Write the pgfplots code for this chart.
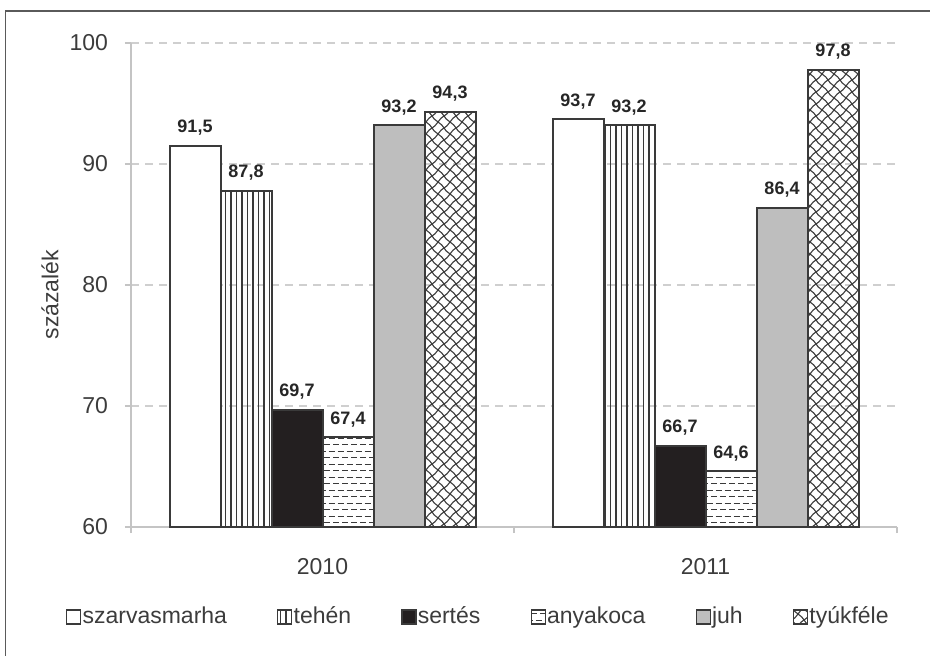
\documentclass[border=0pt]{standalone}
\usepackage{fontspec}
\setmainfont{Liberation Sans}
\usepackage{pgfplots}
\pgfplotsset{compat=1.18}
\usetikzlibrary{patterns}

\definecolor{barline}{HTML}{3A3A3A}
\definecolor{textgray}{HTML}{3C3C3C}
\definecolor{axgray}{HTML}{C4C4C4}
\definecolor{gridgray}{HTML}{CFCFCF}
\definecolor{juhfill}{HTML}{BEBEBE}
\definecolor{sertesfill}{HTML}{231F20}
\definecolor{framegray}{HTML}{5A5A5A}

\pgfdeclarepatternformonly{vlines}{\pgfqpoint{-0.5pt}{0pt}}{\pgfqpoint{0.5pt}{3pt}}{\pgfqpoint{2.75pt}{3pt}}{%
  \pgfsetlinewidth{0.55pt}%
  \pgfpathmoveto{\pgfqpoint{0pt}{-0.5pt}}\pgfpathlineto{\pgfqpoint{0pt}{3.5pt}}%
  \pgfusepath{stroke}}

\pgfdeclarepatternformonly{hdash}{\pgfqpoint{-0.5pt}{0pt}}{\pgfqpoint{5.5pt}{6.5pt}}{\pgfqpoint{4.5pt}{6.5pt}}{%
  \pgfsetlinewidth{0.6pt}%
  \pgfpathmoveto{\pgfqpoint{0pt}{1.6pt}}\pgfpathlineto{\pgfqpoint{3pt}{1.6pt}}%
  \pgfpathmoveto{\pgfqpoint{2.25pt}{4.85pt}}\pgfpathlineto{\pgfqpoint{5.25pt}{4.85pt}}%
  \pgfusepath{stroke}}

\pgfdeclarepatternformonly{scales}{\pgfqpoint{-1pt}{-1pt}}{\pgfqpoint{7pt}{7pt}}{\pgfqpoint{6pt}{6pt}}{%
  \pgfsetlinewidth{0.55pt}%
  \pgfpathmoveto{\pgfqpoint{0pt}{0pt}}\pgfpathcurveto{\pgfqpoint{2pt}{0.6pt}}{\pgfqpoint{4pt}{5.4pt}}{\pgfqpoint{6pt}{6pt}}%
  \pgfpathmoveto{\pgfqpoint{0pt}{6pt}}\pgfpathcurveto{\pgfqpoint{0.6pt}{4pt}}{\pgfqpoint{5.4pt}{2pt}}{\pgfqpoint{6pt}{0pt}}%
  \pgfusepath{stroke}}

\pgfplotsset{
  mybar/.style={draw=barline, line width=1pt,
    legend image code/.code={\draw[##1, line width=0.6pt] (0pt,-3.5pt) rectangle (7pt,3.5pt);}},
}

\begin{document}
\begin{tikzpicture}
\useasboundingbox (0,0) rectangle (465pt,-328pt);
\draw[framegray, line width=0.8pt] (2.75pt,-340pt) -- (2.75pt,-5.5pt) -- (480pt,-5.5pt);
\begin{axis}[
  at={(65.5pt,-263.5pt)}, anchor=south west,
  scale only axis, width=383pt, height=242pt,
  ybar=0pt, bar width=25.5pt,
  xmin=-0.5, xmax=1.5, ymin=60, ymax=100,
  xtick={0,1}, xticklabels={2010,2011},
  minor xtick={-0.5,0.5,1.5},
  ytick={60,70,80,90,100},
  axis x line*=bottom, axis y line*=left,
  axis line style={draw=axgray, line width=0.8pt, -},
  major x tick style={draw=none},
  minor x tick style={draw=axgray, line width=0.8pt},
  major y tick style={draw=axgray, line width=0.8pt},
  tick align=outside,
  major tick length=3pt, minor tick length=3pt,
  ymajorgrids,
  grid style={draw=gridgray, dash pattern=on 4pt off 3pt, line width=0.6pt},
  /pgf/number format/assume math mode=true,
  tick label style={font=\fontsize{11.5}{13}\selectfont, text=textgray},
  yticklabel style={xshift=-5pt},
  xticklabel style={yshift=-9pt},
  ylabel={százalék},
  ylabel style={font=\fontsize{11.5}{13}\selectfont, text=textgray, at={(axis description cs:-0.1057,0.48)}, anchor=center},
  nodes near coords={\pgfmathprintnumber[use comma,fixed,fixed zerofill,precision=1]{\pgfplotspointmeta}},
  every node near coord/.append style={font=\fontsize{9}{10}\selectfont\bfseries, text=black!85, anchor=base, yshift=6.5pt, inner sep=0pt},
  legend columns=6,
  legend style={font=\fontsize{11.5}{13}\selectfont, text=textgray, draw=none, fill=none,
    at={(0.453,-0.186)}, anchor=center,
    nodes={inner sep=0.6pt},
    /tikz/every even column/.append style={column sep=24.5pt}},
]
\addplot[mybar, fill=white] coordinates {(0,91.5) (1,93.7)};
\addplot[mybar, pattern=vlines, pattern color=barline] coordinates {(0,87.8) (1,93.2)};
\addplot[mybar, fill=sertesfill] coordinates {(0,69.7) (1,66.7)};
\addplot[mybar, pattern=hdash, pattern color=barline] coordinates {(0,67.4) (1,64.6)};
\addplot[mybar, fill=juhfill] coordinates {(0,93.2) (1,86.4)};
\addplot[mybar, pattern=scales, pattern color=barline] coordinates {(0,94.3) (1,97.8)};
\legend{szarvasmarha, tehén, sertés, anyakoca, juh, tyúkféle}
\end{axis}
\end{tikzpicture}
\end{document}
